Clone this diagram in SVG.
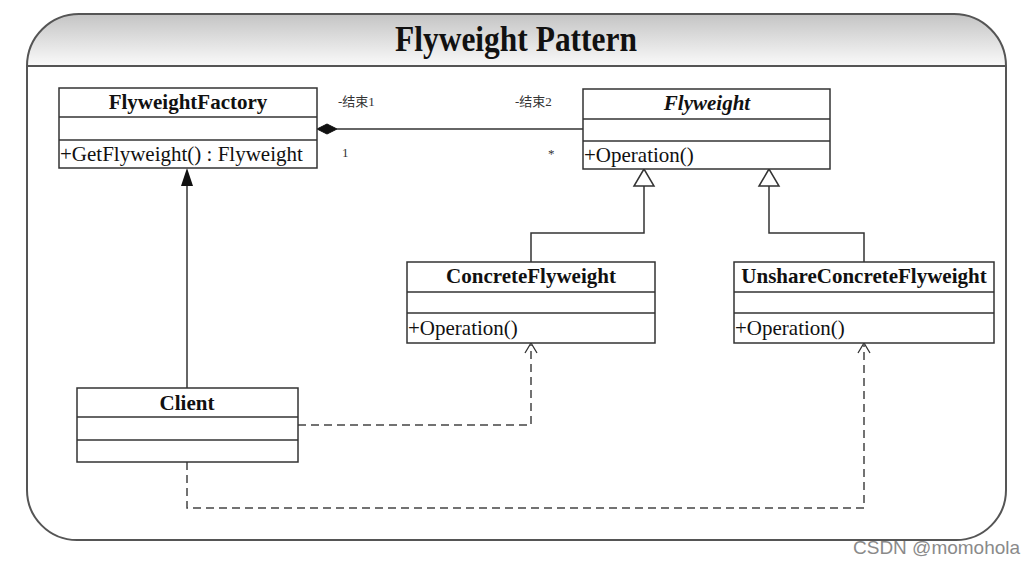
<svg xmlns="http://www.w3.org/2000/svg" width="1032" height="563" viewBox="0 0 1032 563">
<defs>
<linearGradient id="hdr" x1="0" y1="0" x2="0" y2="1">
<stop offset="0" stop-color="#c4c4c4"/>
<stop offset="1" stop-color="#fafafa"/>
</linearGradient>
</defs>
<style>
.box{fill:#fff;stroke:#333;stroke-width:1.5}
.sep{stroke:#333;stroke-width:1.5}
.name{font-family:"Liberation Serif","Times New Roman",serif;font-size:21px;font-weight:bold;fill:#111;text-anchor:middle}
.op{font-family:"Liberation Serif","Times New Roman",serif;font-size:21px;fill:#111}
.lbl{font-family:"Liberation Serif","Noto Sans CJK SC",serif;font-size:13px;fill:#333}
.line{fill:none;stroke:#333;stroke-width:1.5}
.dash{fill:none;stroke:#444;stroke-width:1.5;stroke-dasharray:8 5}
.tri{fill:#fff;stroke:#333;stroke-width:1.5}
.open{fill:none;stroke:#333;stroke-width:1.3}
</style>
<rect width="1032" height="563" fill="#fff"/>
<g id="frame">
<path d="M27,66 A52,52 0 0 1 79,14 L954,14 A52,52 0 0 1 1006,66 Z" fill="url(#hdr)"/>
<path d="M27,66 A52,52 0 0 1 79,14 L954,14 A52,52 0 0 1 1006,66 L1006,490 A50,50 0 0 1 956,540 L77,540 A50,50 0 0 1 27,490 Z" fill="none" stroke="#555" stroke-width="2"/>
<line x1="27" y1="66" x2="1006" y2="66" stroke="#555" stroke-width="2"/>
<text x="516" y="51" text-anchor="middle" font-family="Liberation Serif,'Times New Roman',serif" font-weight="bold" font-size="35" textLength="242" lengthAdjust="spacingAndGlyphs" fill="#111">Flyweight Pattern</text>
</g>
<g id="connectors">
<line class="line" x1="337" y1="129" x2="583" y2="129"/>
<path d="M317,129 L327,124 L337,129 L327,134 Z" fill="#111" stroke="#111" stroke-width="1"/>
<path class="line" d="M644,186 L644,233 L531,233 L531,262"/>
<path class="line" d="M769,186 L769,233 L864,233 L864,262"/>
<path class="tri" d="M644,169 L634,186 L654,186 Z"/>
<path class="tri" d="M769,169 L759,186 L779,186 Z"/>
<line class="line" x1="187" y1="388" x2="187" y2="184"/>
<path d="M187,168 L181,186 L193,186 Z" fill="#111"/>
<path class="dash" d="M298,425 L531,425 L531,345"/>
<path class="open" d="M525,353 L531,343 L537,353"/>
<path class="dash" d="M187,462 L187,508 L864,508 L864,345"/>
<path class="open" d="M858,353 L864,343 L870,353"/>
<text class="lbl" x="338" y="106">-结束1</text>
<text class="lbl" x="515" y="106">-结束2</text>
<text class="lbl" x="342" y="157" font-size="14">1</text>
<text class="lbl" x="548" y="158" font-size="14">*</text>
</g>
<g id="FlyweightFactory">
<rect class="box" x="59" y="88" width="258" height="80"/>
<line class="sep" x1="59" y1="117" x2="317" y2="117"/>
<line class="sep" x1="59" y1="140" x2="317" y2="140"/>
<text class="name" x="188" y="109">FlyweightFactory</text>
<text class="op" x="60" y="161">+GetFlyweight() : Flyweight</text>
</g>
<g id="Flyweight">
<rect class="box" x="583" y="89" width="247" height="80"/>
<line class="sep" x1="583" y1="119" x2="830" y2="119"/>
<line class="sep" x1="583" y1="141" x2="830" y2="141"/>
<text class="name" x="707" y="110" font-style="italic">Flyweight</text>
<text class="op" x="584" y="162">+Operation()</text>
</g>
<g id="ConcreteFlyweight">
<rect class="box" x="407" y="262" width="248" height="81"/>
<line class="sep" x1="407" y1="292" x2="655" y2="292"/>
<line class="sep" x1="407" y1="313" x2="655" y2="313"/>
<text class="name" x="531" y="283">ConcreteFlyweight</text>
<text class="op" x="408" y="335">+Operation()</text>
</g>
<g id="UnshareConcreteFlyweight">
<rect class="box" x="734" y="262" width="260" height="81"/>
<line class="sep" x1="734" y1="292" x2="994" y2="292"/>
<line class="sep" x1="734" y1="313" x2="994" y2="313"/>
<text class="name" x="864" y="283">UnshareConcreteFlyweight</text>
<text class="op" x="735" y="335">+Operation()</text>
</g>
<g id="Client">
<rect class="box" x="77" y="388" width="221" height="74"/>
<line class="sep" x1="77" y1="417" x2="298" y2="417"/>
<line class="sep" x1="77" y1="440" x2="298" y2="440"/>
<text class="name" x="187" y="410">Client</text>
</g>
<text x="853" y="554" font-family="Liberation Sans,Arial,sans-serif" font-size="19" fill="#8a8a8a">CSDN @momohola</text>
</svg>
